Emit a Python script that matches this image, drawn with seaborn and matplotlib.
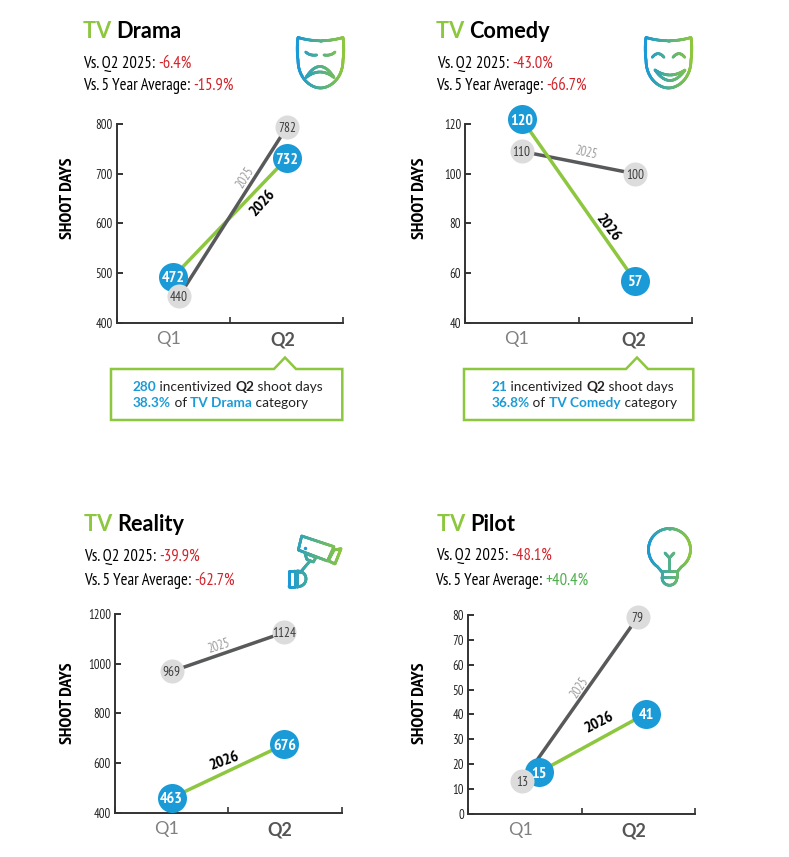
import numpy as np
import pandas as pd
import matplotlib
matplotlib.use("Agg")
import matplotlib.pyplot as plt
import seaborn as sns
from matplotlib.collections import LineCollection
from matplotlib.colors import to_rgb
from matplotlib.patches import Polygon

# values. drawn = where the dot sits, labels = what it says
quarters = ["Q1", "Q2"]

drama_2025_drawn = [453, 794]
drama_2025_labels = [440, 782]
drama_2026_drawn = [492, 731]
drama_2026_labels = [472, 732]
drama_ticks = [400, 500, 600, 700, 800]

comedy_2025_drawn = [109, 100]
comedy_2025_labels = [110, 100]
comedy_2026_drawn = [122, 57]
comedy_2026_labels = [120, 57]
comedy_ticks = [40, 60, 80, 100, 120]

reality_2025_drawn = [969, 1126]
reality_2025_labels = [969, 1124]
reality_2026_drawn = [460, 675]
reality_2026_labels = [463, 676]
reality_ticks = [400, 600, 800, 1000, 1200]

pilot_2025_drawn = [13, 79]
pilot_2025_labels = [13, 79]
pilot_2026_drawn = [16.7, 40.3]
pilot_2026_labels = [15, 41]
pilot_ticks = [0, 10, 20, 30, 40, 50, 60, 70, 80]

GREEN = "#8dc63f"
BLUE = "#1a9ad6"
DARK = "#58595b"
LIGHT = "#dcdcdc"
RED = "#d2232a"
UP = "#4fae4d"
HEAD = ["Lato", "DejaVu Sans"]
NARROW = ["PT Sans Narrow", "Liberation Sans", "DejaVu Sans"]

sns.set_theme(style="white")
plt.rcParams["font.family"] = HEAD

fig = plt.figure(figsize=(7.89, 8.57), dpi=100, facecolor="white")
W, H = 789, 857

over = fig.add_axes([0, 0, 1, 1], zorder=5)
over.set_xlim(0, W)
over.set_ylim(H, 0)
over.axis("off")
over.patch.set_alpha(0)
renderer = fig.canvas.get_renderer()


def text_width(s, **kw):
    # trailing spaces get lost in the extent, so measure against a bar
    a = over.text(0, 0, s + "|", **kw)
    b = over.text(0, 0, "|", **kw)
    w = a.get_window_extent(renderer).width - b.get_window_extent(renderer).width
    a.remove()
    b.remove()
    return w


def rich_text(x, y, parts, family, size):
    for s, color, weight in parts:
        kw = dict(family=family, fontsize=size, fontweight=weight)
        over.text(x, y, s, color=color, va="baseline", ha="left", **kw)
        x += text_width(s, **kw)


def gradient_line(points, xr, lw=2.0):
    # points in pixel coords, colour runs blue to green across the icon
    pts = np.asarray(points, dtype=float)
    seg_len = np.hypot(*np.diff(pts, axis=0).T)
    dist = np.r_[0, np.cumsum(seg_len)]
    t = np.linspace(0, dist[-1], max(int(dist[-1] * 2), 2))
    xs, ys = np.interp(t, dist, pts[:, 0]), np.interp(t, dist, pts[:, 1])
    segs = np.stack([np.c_[xs[:-1], ys[:-1]], np.c_[xs[1:], ys[1:]]], axis=1)
    mix = np.clip((xs[:-1] - xr[0]) / (xr[1] - xr[0]), 0, 1)[:, None]
    cols = (1 - mix) * np.array(to_rgb(BLUE)) + mix * np.array(to_rgb(GREEN))
    over.add_collection(LineCollection(segs, colors=cols, linewidths=lw, capstyle="round"))


def quad(p0, c, p1, n=30):
    s = np.linspace(0, 1, n)[:, None]
    p0, c, p1 = map(np.asarray, (p0, c, p1))
    return (1 - s) ** 2 * p0 + 2 * s * (1 - s) * c + s ** 2 * p1


def cubic(p0, c0, c1, p1, n=40):
    s = np.linspace(0, 1, n)[:, None]
    p0, c0, c1, p1 = map(np.asarray, (p0, c0, c1, p1))
    return (1 - s) ** 3 * p0 + 3 * s * (1 - s) ** 2 * c0 + 3 * s ** 2 * (1 - s) * c1 + s ** 3 * p1


def mask_outline(x0):
    x1 = x0 + 45
    xm = x0 + 22.5
    return np.vstack([
        quad((x0, 37.5), (xm, 44), (x1, 37.5)),
        cubic((x1, 37.5), (x1 + 1, 45), (x1 + 1, 52), (x1, 60)),
        cubic((x1, 60), (x1, 78), (xm + 10, 88), (xm, 88)),
        cubic((xm, 88), (xm - 10, 88), (x0, 78), (x0, 60)),
        cubic((x0, 60), (x0 - 1, 52), (x0 - 1, 45), (x0, 37.5)),
    ])


def icon_sad():
    xr = (298, 343)
    gradient_line(mask_outline(298), xr)
    gradient_line(quad((305.7, 52), (310, 56), (316.7, 55)), xr)
    gradient_line(quad((324, 55), (331, 56), (335, 52)), xr)
    gradient_line(np.vstack([quad((306, 77.5), (320, 55.5), (334, 77.5)),
                             quad((334, 77.5), (320, 66.5), (306, 77.5))]), xr)


def icon_happy():
    xr = (646, 691)
    gradient_line(mask_outline(646), xr)
    gradient_line(quad((652.3, 57.3), (658, 50), (664, 57.3)), xr)
    gradient_line(quad((673, 57.3), (679, 50), (684.7, 57.3)), xr)
    gradient_line(np.vstack([quad((655, 70), (670, 80), (685, 70)),
                             quad((685, 70), (670, 91), (655, 70))]), xr)


def icon_camera():
    xr = (289, 341)
    gradient_line([(301.7, 536), (334, 546.7), (327.5, 561), (298.3, 550), (301.7, 536)], xr)
    gradient_line([(334, 550), (341, 548.7), (335, 564), (328.3, 560.7), (334, 550)], xr)
    gradient_line([(305, 553.3), (316, 557.3), (313.3, 562), (306.7, 559.3), (305, 553.3)], xr)
    gradient_line([(310, 561), (300, 572.7)], xr)
    gradient_line([(289, 571), (295, 571), (295, 586.7), (289, 586.7), (289, 571)], xr)
    gradient_line(np.vstack([[(297, 586.7), (297, 571)],
                             cubic((297, 571), (309, 571), (309, 586.7), (297, 586.7))]), xr)
    over.plot([305], [547.7], "o", ms=2.5, color=BLUE, mew=0)


def icon_bulb():
    xr = (648, 691)
    ang = np.radians(np.linspace(125, 415, 90))
    arc = np.c_[669.5 + 21 * np.cos(ang), 549.5 + 21 * np.sin(ang)]
    gradient_line(np.vstack([[(662, 577)], [(662, 572)], arc, [(677, 572)], [(677, 577)]]), xr)
    gradient_line([(669.4, 571), (669.4, 558)], xr)
    gradient_line([(665, 553), (669.4, 558), (674, 553)], xr)
    gradient_line([(662, 571), (677, 571)], xr)
    gradient_line([(662, 577), (677, 577)], xr)
    gradient_line(np.vstack([[(662, 577)], cubic((662, 577), (662, 588), (677, 588), (677, 577))]), xr)


def callout(left, right, peak, lines):
    top, bottom, tip = 369, 420, 357.5
    outline = [(left, top), (peak - 11, top), (peak, tip), (peak + 11, top),
               (right, top), (right, bottom), (left, bottom)]
    over.add_patch(Polygon(outline, closed=True, fc="white", ec=GREEN, lw=1.8))
    text_x = lines["x"]
    rich_text(text_x, 391, lines["first"], HEAD, 9.85)
    rich_text(text_x, 407, lines["second"], HEAD, 9.85)


def draw_panel(p):
    left, right, top, bottom = p["box"]
    ax = fig.add_axes([left / W, 1 - bottom / H, (right - left) / W, (bottom - top) / H])
    ax.patch.set_alpha(0)

    x25, x26 = p["x25"], p["x26"]
    df = pd.DataFrame({
        "x": x25 + x26,
        "days": p["d25"] + p["d26"],
        "year": ["2025"] * 2 + ["2026"] * 2,
    })
    sns.lineplot(data=df, x="x", y="days", hue="year", hue_order=p["line_order"],
                 palette={"2025": DARK, "2026": GREEN}, linewidth=2.5, legend=False,
                 errorbar=None, sort=False, estimator=None, ax=ax, clip_on=False, zorder=2)

    # Q2 grey goes under the blue dot, Q1 grey sits on top of it
    back = df[(df.year == "2025") & (df.x > 1)]
    front = df[(df.year == "2025") & (df.x < 1)]
    blue = df[df.year == "2026"]
    sns.scatterplot(data=back, x="x", y="days", color=LIGHT, s=300, linewidth=0, ax=ax,
                    clip_on=False, zorder=3, legend=False)
    sns.scatterplot(data=blue, x="x", y="days", color=BLUE, s=436, linewidth=0, ax=ax,
                    clip_on=False, zorder=4, legend=False)
    sns.scatterplot(data=front, x="x", y="days", color=LIGHT, s=300, linewidth=0, ax=ax,
                    clip_on=False, zorder=5, legend=False)

    for xv, yv, lab in zip(x25, p["d25"], p["l25"]):
        ax.text(xv, yv, str(lab), ha="center", va="center_baseline", family=NARROW,
                fontsize=9.5, color="#3c3c3c", zorder=6, clip_on=False)
    for xv, yv, lab in zip(x26, p["d26"], p["l26"]):
        ax.text(xv, yv, str(lab), ha="center", va="center_baseline", family=NARROW,
                fontsize=11.5, fontweight="bold", color="white", zorder=6, clip_on=False)

    ax.set_xlim(0, 2)
    ax.set_ylim(p["ticks"][0], p["ticks"][-1])
    ax.set_yticks(p["ticks"])
    ax.set_yticklabels([str(t) for t in p["ticks"]], family=NARROW, fontsize=9.2, color="#222222")
    ax.set_xticks([0, 1, 2])
    ax.set_xticklabels([])
    ax.set_xticks(p["q_at"], minor=True)
    ax.set_xticklabels(quarters, minor=True, family=HEAD, fontsize=13)
    minor = ax.get_xticklabels(minor=True)
    minor[0].set_color("#808080")
    minor[1].set_color("#555555")
    minor[1].set_fontweight("bold")
    ax.tick_params(axis="x", which="minor", length=0, pad=6)
    ax.tick_params(axis="x", which="major", direction="in", length=4.5, width=1.2, color="#333333",
                   bottom=True)
    ax.tick_params(axis="y", direction="in", length=4.5, width=1.4, color="#333333", left=True, pad=3)
    sns.despine(ax=ax)
    for side in ("left", "bottom"):
        ax.spines[side].set_linewidth(1.4)
        ax.spines[side].set_color("#333333")
    ax.set_xlabel("")
    ax.set_ylabel("SHOOT DAYS", family=NARROW, fontweight="bold", fontsize=13, color="black")
    ax.yaxis.set_label_coords(*p["label_at"])

    tx, ty = p["title_at"]
    rich_text(tx, ty, [("TV ", GREEN, "bold"), (p["name"], "black", "bold")], HEAD, 15.7)
    for (sx, sy), pre, val, col in p["versus"]:
        rich_text(sx, sy, [(pre, "black", "normal"), (val, col, "normal")], NARROW, 12)

    (x5, y5, r5), (x6, y6, r6) = p["tags"]
    over.text(x5, y5, "2025", rotation=r5, ha="center", va="center", family=NARROW,
              fontsize=9, color="#9a9a9a", rotation_mode="anchor")
    over.text(x6, y6, "2026", rotation=r6, ha="center", va="center", family=NARROW,
              fontsize=11.5, color="black", fontweight="bold", rotation_mode="anchor")


panels = [
    dict(name="Drama", box=(116.7, 343, 124, 322.7), x25=[0.55, 1.505], x26=[0.498, 1.505],
         d25=drama_2025_drawn, l25=drama_2025_labels, d26=drama_2026_drawn, l26=drama_2026_labels,
         ticks=drama_ticks, q_at=[0.46, 1.47], label_at=(-0.18, 0.627), line_order=["2026", "2025"],
         title_at=(83, 38),
         versus=[((83, 68), "Vs. Q2 2025: ", "-6.4%", RED), ((83, 90), "Vs. 5 Year Average: ", "-15.9%", RED)],
         tags=[(245, 178, 58), (262.7, 203, 48)]),
    dict(name="Comedy", box=(465.3, 692, 124, 323), x25=[0.497, 1.497], x26=[0.497, 1.497],
         d25=comedy_2025_drawn, l25=comedy_2025_labels, d26=comedy_2026_drawn, l26=comedy_2026_labels,
         ticks=comedy_ticks, q_at=[0.453, 1.487], label_at=(-0.164, 0.627), line_order=["2025", "2026"],
         title_at=(435.7, 38),
         versus=[((437, 67.5), "Vs. Q2 2025: ", "-43.0%", RED), ((436, 90), "Vs. 5 Year Average: ", "-66.7%", RED)],
         tags=[(585.7, 153, -12), (608, 228, -52)]),
    dict(name="Reality", box=(115, 341.7, 614, 812.7), x25=[0.5, 1.495], x26=[0.5, 1.495],
         d25=reality_2025_drawn, l25=reality_2025_labels, d26=reality_2026_drawn, l26=reality_2026_labels,
         ticks=reality_ticks, q_at=[0.456, 1.456], label_at=(-0.172, 0.552), line_order=["2025", "2026"],
         title_at=(84, 530.7),
         versus=[((84, 561), "Vs. Q2 2025: ", "-39.9%", RED), ((84, 585), "Vs. 5 Year Average: ", "-62.7%", RED)],
         tags=[(219, 645.7, 18), (224, 761, 20)]),
    dict(name="Pilot", box=(468, 695, 615, 813.7), x25=[0.476, 1.494], x26=[0.626, 1.568],
         d25=pilot_2025_drawn, l25=pilot_2025_labels, d26=pilot_2026_drawn, l26=pilot_2026_labels,
         ticks=pilot_ticks, q_at=[0.464, 1.463], label_at=(-0.176, 0.557), line_order=["2025", "2026"],
         title_at=(437, 530.7),
         versus=[((436, 560), "Vs. Q2 2025: ", "-48.1%", RED), ((435, 585), "Vs. 5 Year Average: ", "+40.4%", UP)],
         tags=[(580, 687.7, 56), (599, 723, 27)]),
]

for panel in panels:
    draw_panel(panel)

callout(111, 342.3, 285, dict(
    x=132.7,
    first=[("280", BLUE, "bold"), (" incentivized ", "#222222", "normal"),
           ("Q2", "#222222", "bold"), (" shoot days", "#222222", "normal")],
    second=[("38.3%", BLUE, "bold"), (" of ", "#222222", "normal"),
            ("TV Drama", BLUE, "bold"), (" category", "#222222", "normal")]))
callout(464, 693.3, 637, dict(
    x=491.3,
    first=[("21", BLUE, "bold"), (" incentivized ", "#222222", "normal"),
           ("Q2", "#222222", "bold"), (" shoot days", "#222222", "normal")],
    second=[("36.8%", BLUE, "bold"), (" of ", "#222222", "normal"),
            ("TV Comedy", BLUE, "bold"), (" category", "#222222", "normal")]))

icon_sad()
icon_happy()
icon_camera()
icon_bulb()

fig.savefig("out.png", dpi=100)
